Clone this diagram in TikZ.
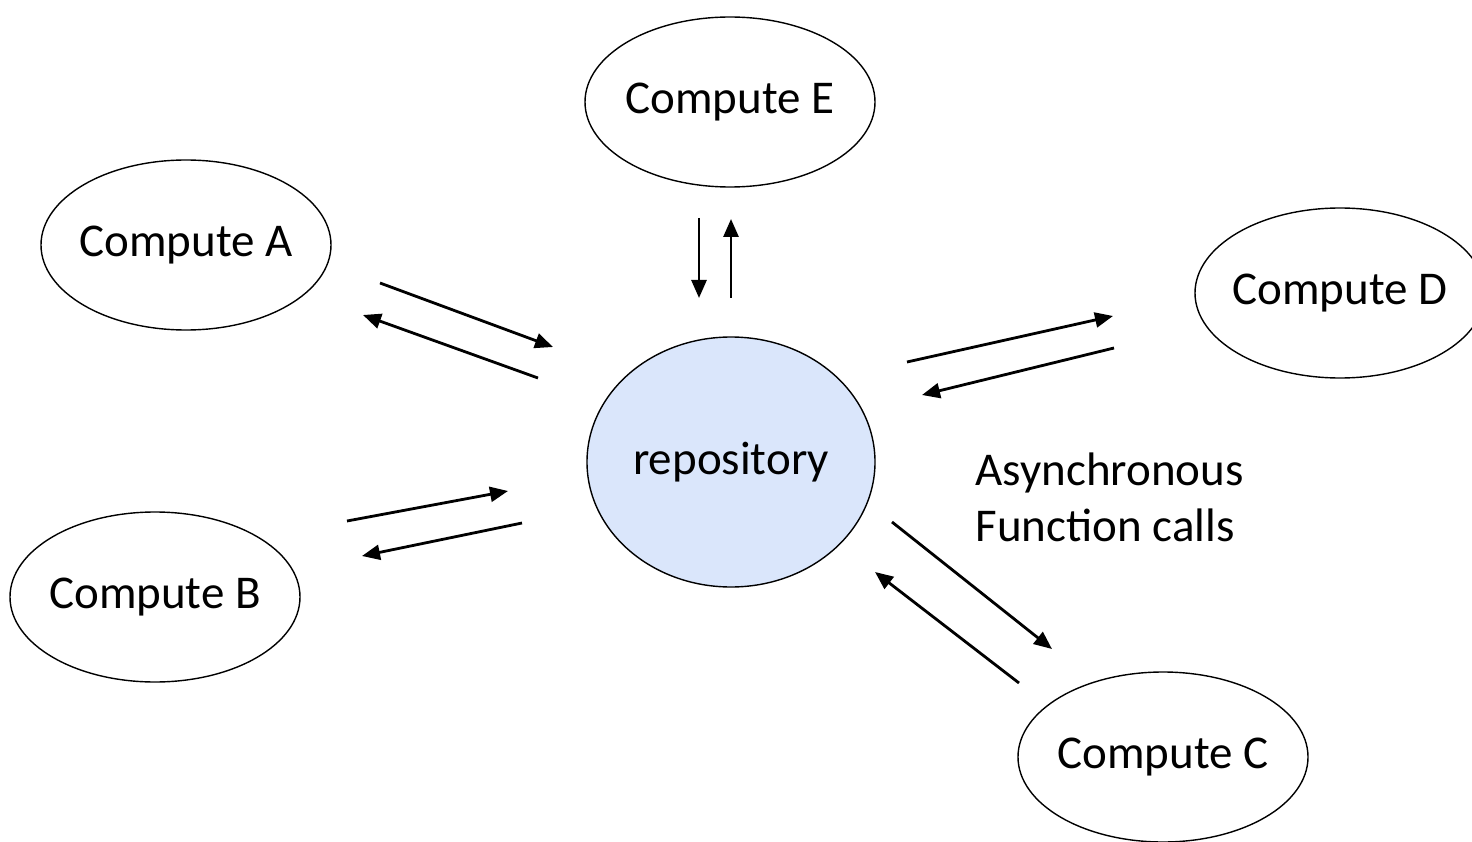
\documentclass[tikz,border=0pt]{standalone}
\usepackage{fontspec}
\setmainfont{Carlito}
\usetikzlibrary{shapes.geometric,arrows.meta}
\definecolor{repofill}{RGB}{218,230,251}
\newcommand{\unittext}[1]{\raisebox{-3pt}{\makebox[0pt]{#1}}}
\tikzset{
  x=1pt, y=-1pt,
  unit/.style={ellipse, draw=black, line width=1.4pt, inner sep=0pt,
    minimum width=290pt, minimum height=170pt,
    font=\fontsize{47}{56}\selectfont},
  flow/.style={line width=2.8pt, -{Triangle[length=18pt,width=15pt]}},
}
\begin{document}
\begin{tikzpicture}
\useasboundingbox (0,0) rectangle (1472,842);
\fill[white] (0,0) rectangle (1472,842);

% compute units around the central repository
\node[unit] (E) at (730,102) {\unittext{Compute E}};
\node[unit] (A) at (186,245) {\unittext{Compute A}};
\node[unit] (D) at (1340,293) {\unittext{Compute D}};
\node[unit] (B) at (155,597) {\unittext{Compute B}};
\node[unit] (C) at (1163,757) {\unittext{Compute C}};
\node[unit, fill=repofill, minimum width=288pt, minimum height=250pt] (R) at (731,462)
  {\unittext{repository}};

\node[anchor=west, align=left, font=\fontsize{47}{56}\selectfont] (note) at (972,497)
  {Asynchronous\\Function calls};

% end points of the call arrows
\coordinate (a1) at (380,283); \coordinate (a2) at (553,347);
\coordinate (a3) at (538,378); \coordinate (a4) at (363,315);
\coordinate (e1) at (699,218); \coordinate (e2) at (699,298);
\coordinate (e3) at (731,298); \coordinate (e4) at (731,219);
\coordinate (d1) at (907,362); \coordinate (d2) at (1113,316);
\coordinate (d3) at (1114,348); \coordinate (d4) at (922,395);
\coordinate (b1) at (347,521); \coordinate (b2) at (508,491);
\coordinate (b3) at (522,523); \coordinate (b4) at (362,556);
\coordinate (c1) at (892,522); \coordinate (c2) at (1052,649);
\coordinate (c3) at (1019,683); \coordinate (c4) at (875,572);

\draw[flow] (a1) -- (a2);
\draw[flow] (a3) -- (a4);
\draw[flow] (e1) -- (e2);
\draw[flow] (e3) -- (e4);
\draw[flow] (d1) -- (d2);
\draw[flow] (d3) -- (d4);
\draw[flow] (b1) -- (b2);
\draw[flow] (b3) -- (b4);
\draw[flow] (c1) -- (c2);
\draw[flow] (c3) -- (c4);
\end{tikzpicture}
\end{document}
